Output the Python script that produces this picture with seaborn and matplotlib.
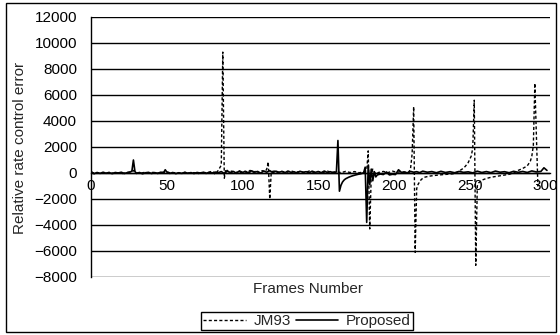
import matplotlib
matplotlib.use("Agg")
import matplotlib.pyplot as plt
from matplotlib.patches import Rectangle
from matplotlib.lines import Line2D
import seaborn as sns
import pandas as pd

# Rate control error per frame, JM93 reference encoder
jm93_frames = [0, 3, 6, 9, 12, 15, 18, 21, 24, 27, 28, 29, 32, 35, 38, 41, 44, 47, 50,
               53, 56, 59, 62, 65, 68, 71, 74, 77, 80, 82, 84, 86, 87, 88, 89, 91, 93,
               95, 97, 99, 101, 103, 105, 107, 109, 111, 113, 115, 116, 117, 118, 119,
               121, 123, 126, 129, 132, 135, 138, 141, 144, 147, 150, 153, 156, 159,
               162, 165, 168, 171, 174, 177, 180, 182, 183, 184, 185, 186, 188, 190,
               193, 196, 199, 202, 205, 208, 210, 211, 212, 213, 214, 215, 216, 218,
               220, 223, 226, 230, 235, 240, 243, 245, 247, 249, 251, 252, 253, 254,
               255, 256, 258, 261, 264, 268, 272, 276, 279, 282, 285, 288, 290, 291,
               292, 293, 295, 296]
jm93_error = [60, -40, 30, -20, 50, -30, 20, -40, 40, 100, 200, 50, -30, 40, -20, 50, -40,
              30, 100, -20, 40, -30, 50, -20, 30, -40, 60, 0, 150, -100, 200, 600, 9300,
              -400, 300, 50, 150, -30, 120, 30, 160, 0, 200, 50, 150, -20, 180, 100, 300,
              850, -2000, 100, 150, 20, 130, 40, 160, 60, 120, 20, 150, 50, 110, 30, 140,
              60, 100, 30, 120, 40, 110, 20, 80, 200, 1700, -4300, -200, 300, -100, 50,
              120, 30, 140, 60, 100, 40, 100, 400, 1500, 5100, -6100, -1200, -850, -500,
              -330, -250, -200, -150, -100, -50, 150, 300, 500, 800, 1300, 1900, 5600,
              -7100, -1000, -750, -550, -420, -330, -250, -180, -100, 0, 200, 350, 550,
              900, 1300, 2100, 6900, -1000, -700]

# Rate control error per frame, proposed scheme
prop_frames = [0, 2, 4, 6, 8, 10, 12, 14, 16, 18, 20, 22, 24, 26, 27, 28, 29, 30, 32, 34,
               36, 38, 40, 42, 44, 46, 48, 49, 50, 52, 54, 56, 58, 60, 62, 64, 66, 68,
               70, 72, 74, 76, 78, 80, 82, 84, 86, 88, 90, 92, 94, 96, 98, 100, 102, 104,
               106, 108, 110, 112, 114, 116, 118, 120, 122, 124, 126, 128, 130, 132,
               134, 136, 138, 140, 142, 144, 146, 148, 150, 152, 154, 156, 158, 160, 162,
               163, 164, 165, 166, 167, 168, 170, 172, 174, 176, 178, 180, 181, 182, 183,
               184, 185, 186, 187, 188, 189, 191, 193, 195, 197, 199, 201, 203, 205, 207,
               209, 211, 213, 215, 217, 219, 222, 225, 228, 231, 234, 237, 240, 243, 246,
               249, 252, 255, 258, 261, 264, 267, 270, 273, 276, 279, 282, 285, 288, 291,
               294, 297, 299, 301]
prop_error = [120, -60, 40, -30, 60, -20, 30, -50, 40, 0, 60, -40, 30, 80, 150, 1000, 120,
              -30, 40, -60, 20, 50, -40, 30, -20, 60, 40, 250, 80, -30, 40, -50, 20, -30,
              50, -20, 30, -40, 40, 0, 50, -30, 60, 0, 70, 20, 110, -40, 150, 30, 120,
              -20, 160, 40, 130, 0, 170, 60, 120, -10, 150, 60, 180, 30, 140, 60, 110, 20,
              150, 50, 90, 10, 130, 60, 100, 20, 140, 50, 110, 30, 150, 40, 100, 20, 80,
              2500, -1400, -950, -700, -550, -450, -330, -240, -170, -110, -60, 20, 450,
              -3800, 600, -900, 300, -600, 100, -300, -150, -80, -120, 80, -150, -100,
              -120, 250, 40, 80, 0, 120, 60, 100, 30, 140, 60, 110, 20, 130, 40, 100, 20,
              120, 50, 90, 10, 140, 40, 110, 30, 150, 60, 100, 20, 130, 50, 120, 40, 160,
              80, 120, 400, 200]

legend_labels = ["JM93", "Proposed"]
y_ticks = [-8000, -6000, -4000, -2000, 0, 2000, 4000, 6000, 8000, 10000, 12000]
x_ticks = [0, 50, 100, 150, 200, 250, 300]

sns.set_style("white")
plt.rcParams["font.family"] = ["Liberation Sans", "DejaVu Sans"]
plt.rcParams["font.size"] = 11

fig = plt.figure(figsize=(5.6, 3.35), dpi=100)
ax = fig.add_axes([91 / 560, 1 - 277 / 335, (550 - 91) / 560, (277 - 17) / 335])

jm_df = pd.DataFrame({"frame": jm93_frames, "err": jm93_error})
pr_df = pd.DataFrame({"frame": prop_frames, "err": prop_error})

dash = (0, (2.2, 1.6))
sns.lineplot(data=jm_df, x="frame", y="err", ax=ax, color="black", lw=1.0,
             linestyle=dash, estimator=None, zorder=3)
sns.lineplot(data=pr_df, x="frame", y="err", ax=ax, color="black", lw=1.2,
             estimator=None, zorder=4)

ax.set_xlim(0, 303)
ax.set_ylim(-8000, 12000)
ax.set_yticks(y_ticks)
ax.set_yticklabels([str(v).replace("-", "\u2212") for v in y_ticks])
ax.set_xticks(x_ticks)
ax.set_xticklabels([str(v) for v in x_ticks])
ax.set_xlabel("")
ax.set_ylabel("")

ax.grid(axis="y", color="black", lw=1.0)
ax.set_axisbelow(True)
for side in ("top", "right"):
    ax.spines[side].set_visible(False)
ax.spines["left"].set_color("black")
ax.spines["left"].set_linewidth(1.0)
ax.spines["bottom"].set_position(("data", 0))
ax.spines["bottom"].set_color("black")
ax.spines["bottom"].set_linewidth(1.0)
ax.tick_params(axis="y", length=0, pad=10, labelsize=11, colors="black")
ax.tick_params(axis="x", length=3, direction="out", pad=1, labelsize=11,
               colors="black", width=0.8)

fig.text(308 / 560, 1 - 289 / 335, "Frames Number", ha="center", va="center",
         fontsize=11)
fig.text(20 / 560, 1 - 148 / 335, "Relative rate control error", ha="center",
         va="center", rotation=90, fontsize=11)

handles = [Line2D([], [], color="black", lw=1.0, linestyle=dash),
           Line2D([], [], color="black", lw=1.2)]
leg = fig.legend(handles, legend_labels, loc="center", ncol=2,
                 bbox_to_anchor=(307 / 560, 1 - 321 / 335), frameon=True,
                 fancybox=False, edgecolor="black", handlelength=2.8,
                 handletextpad=0.5, columnspacing=0.3, borderpad=0.15,
                 fontsize=11, framealpha=1)
leg.get_frame().set_linewidth(1.0)

fig.patches.append(Rectangle((6 / 560, 3 / 335), 550 / 560, 329 / 335,
                             transform=fig.transFigure, fill=False,
                             edgecolor="black", lw=1.0))

fig.savefig("out.png", dpi=100)
